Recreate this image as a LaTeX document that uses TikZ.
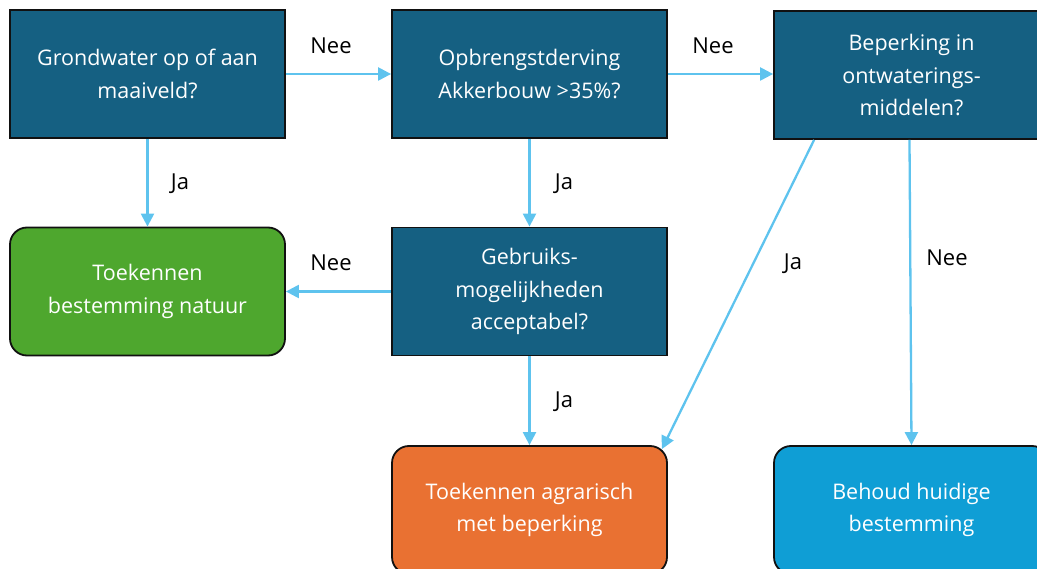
\documentclass[tikz,border=0pt]{standalone}
\usepackage{fontspec}
\setmainfont{Open Sans}
\usetikzlibrary{arrows.meta,calc}
\definecolor{qblue}{HTML}{156082}
\definecolor{qgreen}{HTML}{4EA72E}
\definecolor{qorange}{HTML}{E97132}
\definecolor{qcyan}{HTML}{0F9ED5}
\definecolor{qarrow}{HTML}{5EC3EE}
\definecolor{qline}{HTML}{111111}
\tikzset{
  box/.style={draw=qline, line width=1.8pt, minimum width=275pt, minimum height=128pt,
    inner sep=0pt, align=center, text=white, font=\fontsize{21.5}{32.5}\selectfont},
  question/.style={box, fill=qblue},
  outcome/.style={box, rounded corners=17pt},
  conn/.style={draw=qarrow, line width=2.3pt, -{Triangle[length=13pt,width=13pt]}},
  lbl/.style={font=\fontsize{22}{26}\selectfont, text=black, inner sep=0pt}
}
\begin{document}
\begin{tikzpicture}[x=1pt,y=-1pt]
\useasboundingbox (0,0) rectangle (1037,569);
\clip (0,0) rectangle (1037,569);
\node[question] (q1) at (147.5,74) {Grondwater op of aan\\maaiveld?};
\node[question] (q2) at (529.5,74) {Opbrengstderving\\Akkerbouw >35\%?};
\node[question] (q3) at (911.5,75) {Beperking in\\ontwaterings-\\middelen?};
\node[outcome, fill=qgreen] (nat) at (147.5,291.5) {Toekennen\\bestemming natuur};
\node[question] (q4) at (529.5,291.5) {Gebruiks-\\mogelijkheden\\acceptabel?};
\node[outcome, fill=qorange] (agr) at (529.5,510) {Toekennen agrarisch\\met beperking};
\node[outcome, fill=qcyan] (beh) at (911.5,510) {Behoud huidige\\bestemming};

\draw[conn] (q1.east) -- (q2.west);
\draw[conn] (q2.east) -- (q3.west |- q2.east);
\draw[conn] (q1.south) -- (nat.north);
\draw[conn] (q2.south) -- (q4.north);
\draw[conn] (q4.west) -- (nat.east);
\draw[conn] (q4.south) -- (agr.north);
\draw[conn] ($(q3.south west)+(41,0)$) -- ($(agr.north east)+(-6,4)$);
\draw[conn] ($(q3.south)+(-2,0)$) -- (beh.north);

\node[lbl] (l1) at (331,46) {Nee};
\node[lbl] (l2) at (713,46) {Nee};
\node[lbl] (l3) at (180,184) {Ja};
\node[lbl] (l4) at (564,184) {Ja};
\node[lbl] (l5) at (331,263) {Nee};
\node[lbl] (l6) at (564,402) {Ja};
\node[lbl] (l7) at (793,264) {Ja};
\node[lbl] (l8) at (947,258) {Nee};
\end{tikzpicture}
\end{document}
